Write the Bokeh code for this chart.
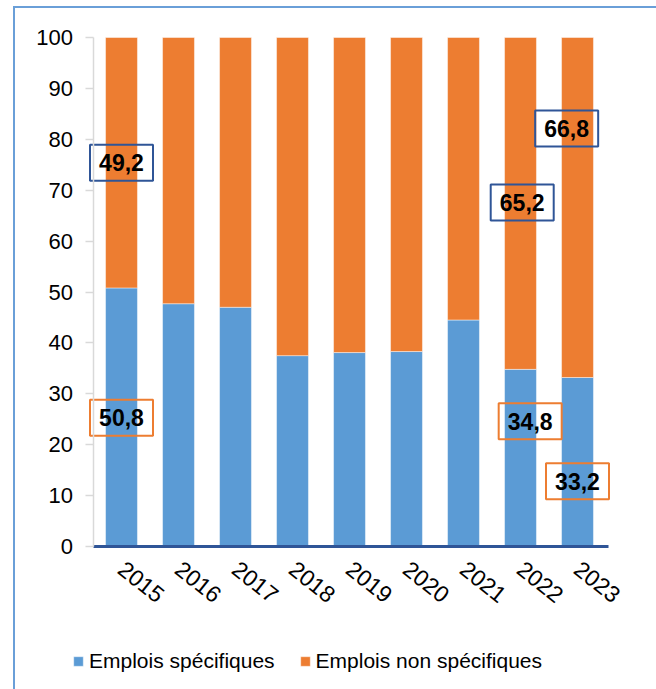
from bokeh.plotting import figure
from bokeh.models import (Range1d, FixedTicker, Legend, LegendItem,
                          ColumnDataSource)
from bokeh.core.properties import value
from bokeh.embed import file_html
from bokeh.resources import INLINE

# ---- data ----
years = ["2015", "2016", "2017", "2018", "2019", "2020", "2021", "2022", "2023"]
specifiques = [50.8, 47.7, 47.0, 37.5, 38.1, 38.3, 44.5, 34.8, 33.2]
non_specifiques = [49.2, 52.3, 53.0, 62.5, 61.9, 61.7, 55.5, 65.2, 66.8]
series_names = ["Emplois spécifiques", "Emplois non spécifiques"]
y_ticks = [0, 10, 20, 30, 40, 50, 60, 70, 80, 90, 100]
labelled_years = ["2015", "2022", "2023"]

# ---- layout / styles ----
W, H = 656, 689
BLUE = "#5b9bd5"
ORANGE = "#ed7d31"
DARKBLUE = "#2f5597"
FRAME = "#6a9fd8"
FONT = "Liberation Sans"
CAT_PX = 57.0          # pixels per category
X0_PX = 121.0          # pixel of first category centre
Y0_PX, Y100_PX = 546.0, 37.0
PX_PER_UNIT = (Y0_PX - Y100_PX) / 100.0

x_range = Range1d((0 - X0_PX) / CAT_PX, (W - X0_PX) / CAT_PX)
y_range = Range1d(-(H - Y0_PX) / PX_PER_UNIT, 100 + Y100_PX / PX_PER_UNIT)

p = figure(frame_width=W, frame_height=H, output_backend="svg",
           toolbar_location=None, x_range=x_range, y_range=y_range,
           min_border=0)
p.outline_line_color = None
p.xgrid.visible = False
p.ygrid.visible = False
p.background_fill_alpha = 0
p.border_fill_alpha = 0
# outer frame: only its top and left edges are inside the picture
p.styles = {
    "background-color": "white",
    "background-image": f"linear-gradient({FRAME}, {FRAME}), linear-gradient({FRAME}, {FRAME})",
    "background-position": "13px 6px, 13px 6px",
    "background-size": "2px 100%, 100% 2px",
    "background-repeat": "no-repeat, no-repeat",
}

xs = list(range(len(years)))
src = ColumnDataSource(dict(x=xs, spec=specifiques, nonspec=non_specifiques))
r = p.vbar_stack(["spec", "nonspec"], x="x", width=0.56, source=src,
                 color=[BLUE, ORANGE], line_color="white", line_alpha=0.45,
                 line_width=1)

# y axis (fixed at left edge of the category band)
p.yaxis.fixed_location = -0.5
p.yaxis.bounds = (0, 100)
p.yaxis.ticker = FixedTicker(ticks=y_ticks)
p.yaxis.axis_line_color = "#d9d9d9"
p.yaxis.axis_line_width = 1.5
p.yaxis.major_tick_line_color = "#d9d9d9"
p.yaxis.major_tick_line_width = 1.5
p.yaxis.major_tick_out = 8
p.yaxis.major_tick_in = 0
p.yaxis.minor_tick_line_color = None
p.yaxis.major_label_text_font = FONT
p.yaxis.major_label_text_font_size = "22px"
p.yaxis.major_label_text_color = "black"
p.yaxis.major_label_standoff = 12

# x axis (fixed at y = 0)
p.xaxis.fixed_location = 0
p.xaxis.bounds = (-0.5, len(years) - 0.45)
p.xaxis.ticker = FixedTicker(ticks=xs)
p.xaxis.major_label_overrides = {i: y for i, y in enumerate(years)}
p.xaxis.axis_line_color = DARKBLUE
p.xaxis.axis_line_width = 3
p.xaxis.major_tick_line_color = None
p.xaxis.minor_tick_line_color = None
p.xaxis.major_label_text_font = FONT
p.xaxis.major_label_text_font_size = "23px"
p.xaxis.major_label_text_color = "black"
p.xaxis.major_label_orientation = -0.675
p.xaxis.major_label_standoff = 13

# value boxes
label_pos = {  # (x offset in categories, y position) for each labelled bar part
    ("2015", 0): (0.0, 25.3), ("2015", 1): (0.0, 75.4),
    ("2022", 0): (0.17, 24.6), ("2022", 1): (0.03, 67.6),
    ("2023", 0): (0.0, 12.8), ("2023", 1): (-0.19, 82.1),
}
bx, by, btxt, bcol = [], [], [], []
for yr in labelled_years:
    i = years.index(yr)
    for k, vals in enumerate([specifiques, non_specifiques]):
        dx, yy = label_pos[(yr, k)]
        bx.append(i + dx)
        by.append(yy)
        btxt.append(f"{vals[i]:.1f}".replace(".", ","))
        bcol.append(ORANGE if k == 0 else DARKBLUE)
bsrc = ColumnDataSource(dict(x=bx, y=by, t=btxt, c=bcol))
p.rect(x="x", y="y", width=63, height=36, width_units="screen",
       height_units="screen", source=bsrc, fill_alpha=0, line_color="c",
       line_width=2)
p.text(x="x", y="y", text="t", source=bsrc, text_align="center",
       text_baseline="middle", text_font=value(FONT), text_font_style="bold",
       text_font_size="23px", text_color="black")

# legend
legend = Legend(items=[LegendItem(label=series_names[0], renderers=[r[0]]),
                       LegendItem(label=series_names[1], renderers=[r[1]])],
                orientation="horizontal", location=(72, 16))
legend.label_text_font = FONT
legend.label_text_font_size = "21px"
legend.label_text_color = "black"
legend.glyph_width = 12
legend.glyph_height = 12
legend.label_standoff = 5
legend.spacing = 24
legend.padding = 0
legend.margin = 0
legend.border_line_color = None
legend.background_fill_alpha = 0
p.add_layout(legend, "center")

open("out.html", "w").write(file_html(p, INLINE))
